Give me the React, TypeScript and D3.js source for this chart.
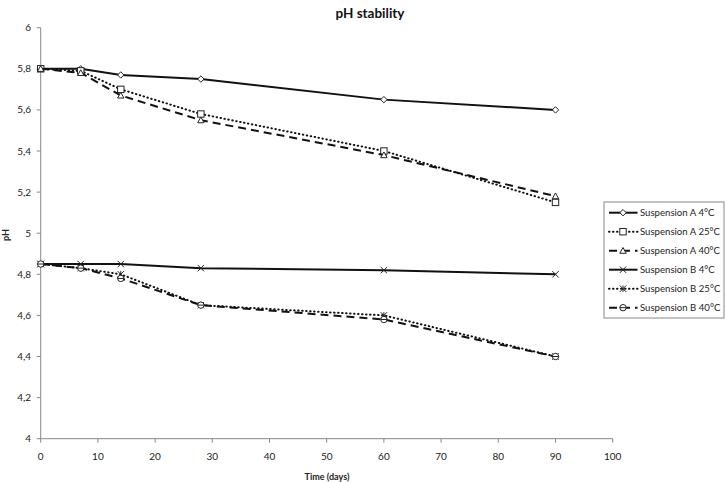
import React from "react";
import * as d3 from "d3";

const days = [0, 7, 14, 28, 60, 90];
const seriesNames = [
  "Suspension A 4°C",
  "Suspension A 25°C",
  "Suspension A 40°C",
  "Suspension B 4°C",
  "Suspension B 25°C",
  "Suspension B 40°C",
];
const susA4 = [5.8, 5.8, 5.77, 5.75, 5.65, 5.6];
const susA25 = [5.8, 5.79, 5.7, 5.58, 5.4, 5.15];
const susA40 = [5.8, 5.78, 5.67, 5.55, 5.38, 5.18];
const susB4 = [4.85, 4.85, 4.85, 4.83, 4.82, 4.8];
const susB25 = [4.85, 4.83, 4.8, 4.65, 4.6, 4.4];
const susB40 = [4.85, 4.83, 4.78, 4.65, 4.58, 4.4];
const seriesValues = [susA4, susA25, susA40, susB4, susB25, susB40];
const markers = ["diamond", "square", "triangle", "x", "asterisk", "circle"];
const dashes = ["", "0.5 3.5", "8 5", "", "0.5 3.5", "8 5"];
const xTicks = [0, 10, 20, 30, 40, 50, 60, 70, 80, 90, 100];
const yTicks = [4, 4.2, 4.4, 4.6, 4.8, 5, 5.2, 5.4, 5.6, 5.8, 6];

const FONT = "Lato, 'Open Sans', sans-serif";

function Marker({ type, x, y }: { type: string; x: number; y: number }) {
  const s = 3.2;
  const common = { fill: "white", stroke: "#222", strokeWidth: 1 };
  switch (type) {
    case "diamond":
      return <path d={`M${x},${y - s}L${x + s},${y}L${x},${y + s}L${x - s},${y}Z`} {...common} />;
    case "square":
      return <rect x={x - s} y={y - s} width={2 * s} height={2 * s} {...common} />;
    case "triangle":
      return <path d={`M${x},${y - s}L${x + s},${y + s * 0.8}L${x - s},${y + s * 0.8}Z`} {...common} />;
    case "x":
      return <path d={`M${x - s},${y - s}L${x + s},${y + s}M${x - s},${y + s}L${x + s},${y - s}`} fill="none" stroke="#222" strokeWidth={1} />;
    case "asterisk":
      return (
        <path
          d={`M${x - s},${y - s}L${x + s},${y + s}M${x - s},${y + s}L${x + s},${y - s}M${x},${y - s}L${x},${y + s}`}
          fill="none"
          stroke="#222"
          strokeWidth={1}
        />
      );
    case "circle":
      return (
        <g>
          <circle cx={x} cy={y} r={s} {...common} />
          <line x1={x - s} x2={x + s} y1={y} y2={y} stroke="#222" strokeWidth={1} />
        </g>
      );
    default:
      return null;
  }
}

export default function App() {
  const W = 725;
  const H = 482;
  const x = d3.scaleLinear().domain([0, 100]).range([40.7, 612.7]);
  const y = d3.scaleLinear().domain([4, 6]).range([438.7, 27.7]);
  const line = d3
    .line<[number, number]>()
    .x((d) => x(d[0]))
    .y((d) => y(d[1]));
  const fmt = (v: number) => (Number.isInteger(v) ? String(v) : v.toFixed(1).replace(".", ","));

  const legX = 604;
  const legY = 202;
  const rowH = 19;

  return (
    <svg width={W} height={H} style={{ position: "absolute", left: 0, top: 0, background: "white" }}>
      <rect x={0} y={0} width={W} height={H} fill="white" />
      <text x={370} y={18} textAnchor="middle" fontFamily={FONT} fontWeight="bold" fontSize={13.5} fill="#111">
        pH stability
      </text>
      {/* axes */}
      <line x1={x(0)} x2={x(0)} y1={y(6)} y2={y(4)} stroke="#888" strokeWidth={1} />
      <line x1={x(0)} x2={x(100)} y1={y(4)} y2={y(4)} stroke="#888" strokeWidth={1} />
      {yTicks.map((t) => (
        <g key={"y" + t}>
          <line x1={x(0) - 4} x2={x(0)} y1={y(t)} y2={y(t)} stroke="#888" />
          <text x={31} y={y(t) + 3.5} textAnchor="end" fontFamily={FONT} fontSize={10} fill="#222">
            {fmt(t)}
          </text>
        </g>
      ))}
      {xTicks.map((t) => (
        <g key={"x" + t}>
          <line x1={x(t)} x2={x(t)} y1={y(4)} y2={y(4) + 4} stroke="#888" />
          <text x={x(t)} y={459.5} textAnchor="middle" fontFamily={FONT} fontSize={10} fill="#222">
            {t}
          </text>
        </g>
      ))}
      <text x={327} y={480} textAnchor="middle" fontFamily={FONT} fontWeight="bold" fontSize={9} fill="#222">
        Time (days)
      </text>
      <text
        transform={`translate(9,${235}) rotate(-90)`}
        textAnchor="middle"
        fontFamily={FONT}
        fontWeight="bold"
        fontSize={9}
        fill="#222"
      >
        pH
      </text>
      {/* series */}
      {seriesValues.map((vals, i) => {
        const pts = days.map((d, j) => [d, vals[j]] as [number, number]);
        return (
          <g key={"s" + i}>
            <path
              d={line(pts) || ""}
              fill="none"
              stroke="#111"
              strokeWidth={2}
              strokeDasharray={dashes[i]}
              strokeLinecap={dashes[i].startsWith("0.5") ? "round" : "butt"}
            />
            {pts.map((p, j) => (
              <Marker key={j} type={markers[i]} x={x(p[0])} y={y(p[1])} />
            ))}
          </g>
        );
      })}
      {/* legend */}
      <rect x={legX} y={legY} width={120} height={116} fill="white" stroke="#888" strokeWidth={1} />
      {seriesNames.map((n, i) => {
        const cy = legY + 10.7 + i * rowH;
        return (
          <g key={"l" + i}>
            <line
              x1={609}
              x2={637.5}
              y1={cy}
              y2={cy}
              stroke="#111"
              strokeWidth={2}
              strokeDasharray={dashes[i]}
              strokeLinecap={dashes[i].startsWith("0.5") ? "round" : "butt"}
            />
            <Marker type={markers[i]} x={623} y={cy} />
            <text x={640} y={cy + 3.3} fontFamily={FONT} fontSize={9.6} fill="#222">
              {n}
            </text>
          </g>
        );
      })}
    </svg>
  );
}
